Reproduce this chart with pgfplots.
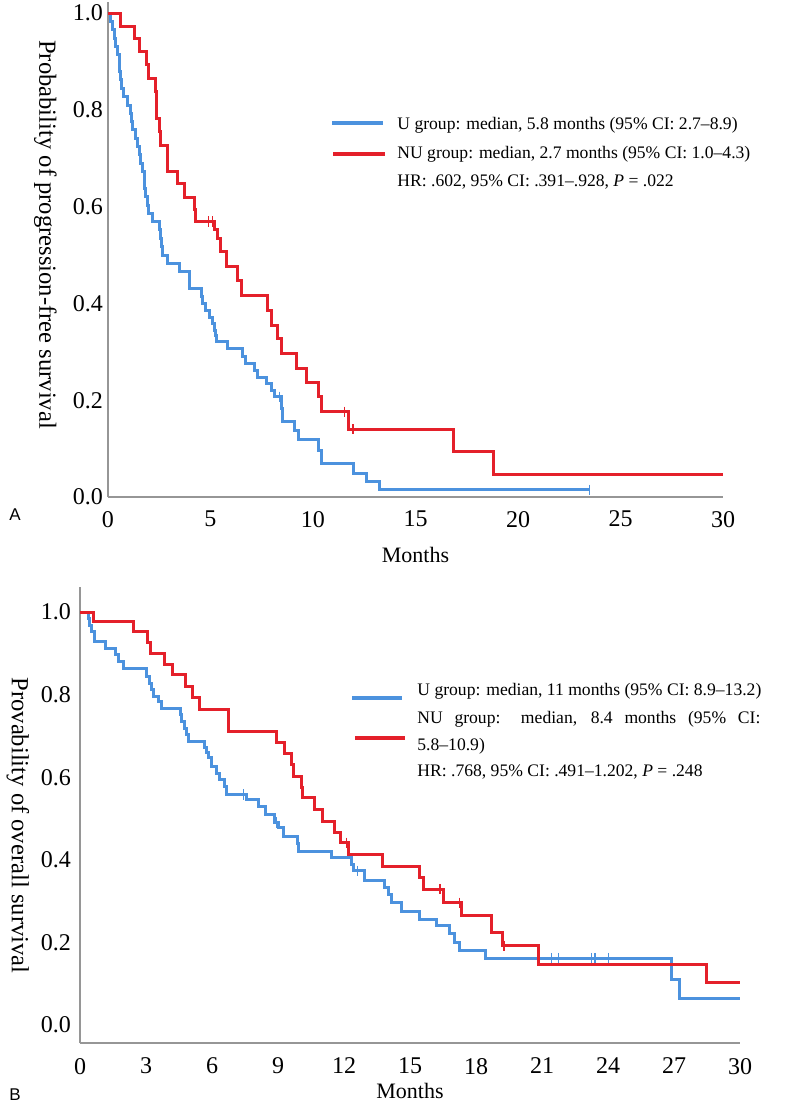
\documentclass[border=0pt]{standalone}
\usepackage{fontspec}
\setmainfont{Liberation Serif}
\newfontfamily\panelfont{Liberation Sans}
\usepackage{pgfplots}
\usepackage{pgfplotstable}
\pgfplotsset{compat=1.18}

\definecolor{kmblue}{RGB}{76,146,222}
\definecolor{kmred}{RGB}{228,32,42}
\definecolor{axgray}{RGB}{150,150,150}

% Kaplan-Meier step data: time (months), survival
\pgfplotstableread{
t s
0 1.000
0.12 0.983
0.21 0.966
0.30 0.948
0.38 0.931
0.46 0.914
0.54 0.897
0.58 0.879
0.62 0.862
0.64 0.845
0.78 0.828
0.95 0.810
1.11 0.793
1.15 0.776
1.19 0.759
1.35 0.741
1.44 0.724
1.52 0.707
1.60 0.690
1.68 0.672
1.76 0.655
1.80 0.638
1.84 0.621
1.92 0.603
2.00 0.586
2.17 0.569
2.50 0.552
2.58 0.534
2.62 0.517
2.66 0.500
2.90 0.483
3.48 0.466
3.96 0.448
4.00 0.431
4.54 0.414
4.62 0.400
4.78 0.386
4.94 0.372
5.11 0.359
5.19 0.345
5.23 0.333
5.27 0.321
5.84 0.307
6.57 0.290
6.70 0.276
7.15 0.262
7.31 0.248
7.72 0.235
7.96 0.221
8.13 0.207
8.45 0.183
8.49 0.170
8.53 0.156
9.10 0.138
9.27 0.118
10.25 0.097
10.41 0.070
11.96 0.049
12.61 0.032
13.26 0.015
23.50 0.015
}\pfsU

\pgfplotstableread{
t s
0 1.000
0.62 0.973
1.27 0.948
1.55 0.920
1.88 0.893
1.97 0.865
2.33 0.838
2.35 0.810
2.37 0.782
2.53 0.755
2.55 0.727
2.90 0.700
2.92 0.672
3.39 0.648
3.72 0.620
4.21 0.595
4.28 0.569
5.19 0.552
5.35 0.534
5.47 0.507
5.76 0.476
6.33 0.448
6.49 0.417
7.80 0.386
7.96 0.355
8.29 0.328
8.45 0.297
9.19 0.266
9.68 0.236
10.25 0.207
10.41 0.176
11.71 0.140
16.85 0.094
18.81 0.047
30.00 0.047
}\pfsNU

\pgfplotstableread{
t s
0 1.000
0.38 0.984
0.45 0.968
0.53 0.952
0.68 0.928
1.14 0.912
1.62 0.896
1.74 0.880
1.97 0.864
3.03 0.844
3.18 0.828
3.26 0.812
3.33 0.796
3.56 0.783
3.71 0.767
4.55 0.751
4.62 0.735
4.77 0.719
4.85 0.703
4.92 0.687
5.65 0.671
5.76 0.659
5.83 0.647
5.98 0.626
6.21 0.610
6.36 0.594
6.59 0.578
6.67 0.558
7.58 0.546
8.11 0.530
8.41 0.510
8.86 0.490
9.02 0.478
9.24 0.457
9.88 0.439
9.92 0.421
11.42 0.405
12.35 0.389
12.42 0.373
12.95 0.349
13.86 0.333
14.02 0.316
14.17 0.296
14.62 0.276
15.42 0.256
16.20 0.240
16.80 0.222
17.00 0.200
17.27 0.180
18.41 0.162
26.89 0.111
27.27 0.063
30.00 0.063
}\osU

\pgfplotstableread{
t s
0 1.000
0.60 0.976
2.42 0.952
3.08 0.926
3.22 0.900
3.82 0.874
4.20 0.848
4.80 0.820
5.12 0.793
5.45 0.765
6.74 0.738
6.76 0.711
8.94 0.683
9.28 0.657
9.60 0.630
9.70 0.602
10.05 0.576
10.12 0.550
10.68 0.522
11.02 0.493
11.55 0.467
11.85 0.441
12.20 0.413
13.75 0.385
15.45 0.357
15.61 0.329
16.52 0.296
17.35 0.264
18.71 0.224
19.20 0.192
20.83 0.146
28.49 0.103
30.00 0.103
}\osNU

\pgfplotsset{
  km/.style={
    scale only axis,
    axis x line*=bottom, axis y line*=left,
    axis line style={-, draw=axgray, line width=0.8pt},
    x axis line style={-}, y axis line style={-},
    major tick length=0pt,
    xmin=0, xmax=30,
    tick label style={font=\fontsize{12}{13}\selectfont},
    /pgf/number format/assume math mode=true,
    yticklabel style={/pgf/number format/fixed, /pgf/number format/fixed zerofill, /pgf/number format/precision=1},
    ytick={0,0.2,0.4,0.6,0.8,1.0},
    xlabel style={font=\fontsize{11}{13}\selectfont},
    every axis y label/.style={rotate=-90, anchor=center, font=\fontsize{12.3}{14}\selectfont},
    clip=false,
  },
  kmline/.style={const plot, line width=1.5pt, no marks},
  censor/.style={only marks, mark=|, mark size=2.6pt, mark options={line width=0.7pt}},
}

\begin{document}
\begin{tikzpicture}
\useasboundingbox (0pt,0pt) rectangle (400pt,-554.5pt);

% ---------- Panel A: progression-free survival ----------
\begin{axis}[km,
  at={(54pt,-248.5pt)}, anchor=south west,
  width=307.5pt, height=247.5pt,
  ymin=0, ymax=1.023,
  xtick={0,5,...,30},
  xticklabel style={yshift=-3.5pt},
  yticklabel style={xshift=1pt},
  xlabel={Months},
  xlabel style={at={(axis description cs:0.5,-0.118)}, anchor=center},
  ylabel={Probability of progression-free survival},
  every axis y label/.append style={at={(axis description cs:-0.102,0.53)}},
]
\addplot[kmline, kmblue] table[x=t, y=s] {\pfsU};
\addplot[kmline, kmred] table[x=t, y=s] {\pfsNU};
\addplot[censor, kmblue] coordinates {(8.37,0.207) (23.5,0.015)};
\addplot[censor, kmred] coordinates {(4.9,0.569) (5.1,0.569) (11.55,0.176) (11.96,0.140)};
\end{axis}

% legend A
\draw[kmblue, line width=1.6pt] (166pt,-61.5pt) -- (191.5pt,-61.5pt);
\draw[kmred, line width=1.6pt] (166.5pt,-77pt) -- (192.5pt,-77pt);
\begin{scope}[every node/.style={anchor=base west, inner sep=0pt, font=\fontsize{8.8}{10}\selectfont}]
\node at (198.5pt,-64.5pt) {U group: median, 5.8 months (95\% CI: 2.7--8.9)};
\node at (198.5pt,-79pt) {NU group: median, 2.7 months (95\% CI: 1.0--4.3)};
\node at (198.5pt,-93pt) {HR: .602, 95\% CI: .391--.928, \textit{P} = .022};
\end{scope}
\node[font=\panelfont\fontsize{8.5}{10}\selectfont] at (7.5pt,-257.5pt) {A};

% ---------- Panel B: overall survival ----------
\begin{axis}[km,
  at={(40pt,-521.5pt)}, anchor=south west,
  width=330pt, height=228pt,
  ymin=-0.0436, ymax=1.0605,
  xtick={0,3,...,30},
  xticklabel style={yshift=-4pt},
  yticklabel style={xshift=-1pt},
  xlabel={Months},
  xlabel style={at={(axis description cs:0.5,-0.105)}, anchor=center},
  ylabel={Provability of overall survival},
  every axis y label/.append style={at={(axis description cs:-0.094,0.477)}},
]
\addplot[kmline, kmblue] table[x=t, y=s] {\osU};
\addplot[kmline, kmred] table[x=t, y=s] {\osNU};
\addplot[censor, kmblue] coordinates {(7.42,0.558) (8.94,0.490) (12.6,0.373) (21.44,0.162) (21.74,0.162) (23.26,0.162) (23.41,0.162) (24.01,0.162)};
\addplot[censor, kmred] coordinates {(12.12,0.441) (16.36,0.329) (17.24,0.296) (19.27,0.192)};
\end{axis}

% legend B
\draw[kmblue, line width=1.6pt] (176pt,-349pt) -- (201pt,-349pt);
\draw[kmred, line width=1.6pt] (177.5pt,-369pt) -- (202.5pt,-369pt);
\begin{scope}[every node/.style={anchor=base west, inner sep=0pt, font=\fontsize{8.8}{10}\selectfont}]
\node at (208.5pt,-347.5pt) {U group: median, 11 months (95\% CI: 8.9--13.2)};
\node at (208.5pt,-361.5pt) {\makebox[171.5pt][s]{NU group: median, 8.4 months (95\% CI:}};
\node at (208.5pt,-375pt) {5.8--10.9)};
\node at (208.5pt,-388pt) {HR: .768, 95\% CI: .491--1.202, \textit{P} = .248};
\end{scope}
\node[font=\panelfont\fontsize{8.5}{10}\selectfont] at (7.5pt,-547.5pt) {B};
\end{tikzpicture}
\end{document}
